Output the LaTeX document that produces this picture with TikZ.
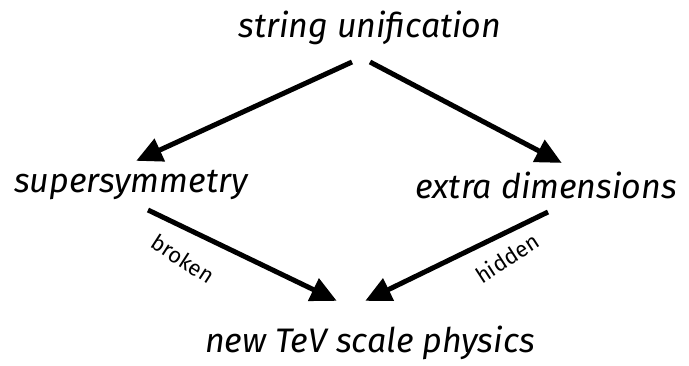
\documentclass[tikz,border=0pt]{standalone}
\usepackage{fontspec}
\setmainfont{Fira Sans}
\usetikzlibrary{arrows.meta,calc}
\begin{document}
\begin{tikzpicture}[x=1pt,y=-1pt,
  lbl/.style={font=\itshape\fontsize{34}{36}\selectfont, inner sep=0pt},
  small/.style={font=\fontsize{22}{24}\selectfont, inner sep=0pt},
  conn/.style={line width=5pt, -{Triangle[length=26pt,width=24pt]}, shorten >=-2pt}]
\useasboundingbox (0,0) rectangle (689,366);
\node[lbl] (su) at (370,28) {string unification};
\node[lbl] (ss) at (131,185) {supersymmetry};
\node[lbl] (ed) at (546,185) {extra dimensions};
\node[lbl] (tev) at (370,343) {new TeV scale physics};
\coordinate (a1s) at (352,62);
\coordinate (a1e) at (138,160);
\coordinate (a2s) at (370,62);
\coordinate (a2e) at (560,162);
\coordinate (a3s) at (148,210);
\coordinate (a3e) at (335,300);
\coordinate (a4s) at (548,212);
\coordinate (a4e) at (367,300);
\draw[conn] (a1s) -- (a1e);
\draw[conn] (a2s) -- (a2e);
\draw[conn] (a3s) -- (a3e);
\draw[conn] (a4s) -- (a4e);
\node[small, rotate=-33] (brk) at (183,259) {broken};
\node[small, rotate=33] (hid) at (507,258) {hidden};
\end{tikzpicture}
\end{document}
